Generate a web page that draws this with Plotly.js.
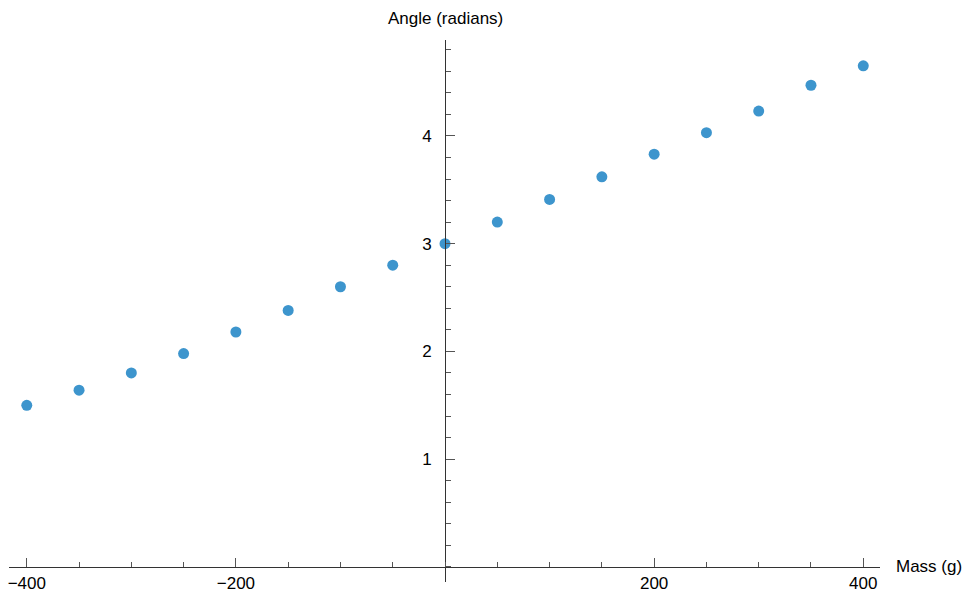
<!DOCTYPE html>
<html>
<head>
<meta charset="utf-8">
<script src="https://cdn.plot.ly/plotly-3.0.1.min.js"></script>
<style>html,body{margin:0;padding:0;background:#fff;}#chart{width:963px;height:593px;}</style>
</head>
<body>
<div id="chart"></div>
<script>
const massValues = [-400, -350, -300, -250, -200, -150, -100, -50, 0, 50, 100, 150, 200, 250, 300, 350, 400];
const angleValues = [1.50, 1.64, 1.80, 1.98, 2.18, 2.38, 2.60, 2.80, 3.00, 3.20, 3.41, 3.62, 3.83, 4.03, 4.23, 4.47, 4.65];
const xTickVals = [-400, -200, 200, 400];
const xTickText = ['\u2212400', '\u2212200', '200', '400'];
const yTickVals = [1, 2, 3, 4];
const yTickText = ['1', '2', '3', '4'];
const xTitle = 'Mass (g)';
const yTitle = 'Angle (radians)';

const xRange = [-417, 416];
const yRange = [-0.14, 4.89];
const xPos = (0 - yRange[0]) / (yRange[1] - yRange[0]);
const yPos = (0 - xRange[0]) / (xRange[1] - xRange[0]);

const font = {family: 'Liberation Sans, Arial, sans-serif', size: 17, color: '#000'};

const trace = {
  x: massValues, y: angleValues, type: 'scatter', mode: 'markers',
  marker: {size: 11, color: '#3d95cd'}, cliponaxis: false, hoverinfo: 'none'
};

const layout = {
  width: 963, height: 593,
  margin: {l: 9, r: 83, t: 40, b: 11},
  paper_bgcolor: '#fff', plot_bgcolor: '#fff',
  showlegend: false,
  font: font,
  xaxis: {
    range: xRange, anchor: 'free', position: xPos, side: 'bottom',
    showgrid: false, zeroline: false, showline: true, linecolor: '#333', linewidth: 1,
    ticks: 'inside', ticklen: 9, tickcolor: '#555', tickwidth: 1,
    tickmode: 'array', tickvals: xTickVals, ticktext: xTickText,
    tickfont: font, ticklabelstandoff: 1,
    minor: {dtick: 50, tick0: 0, ticks: 'inside', ticklen: 5, tickcolor: '#555', showgrid: false}
  },
  yaxis: {
    range: yRange, anchor: 'free', position: yPos, side: 'left',
    showgrid: false, zeroline: false, showline: true, linecolor: '#333', linewidth: 1,
    ticks: 'inside', ticklen: 9, tickcolor: '#555', tickwidth: 1,
    tickmode: 'array', tickvals: yTickVals, ticktext: yTickText,
    tickfont: font, ticklabelstandoff: 10,
    minor: {dtick: 0.2, tick0: 0, ticks: 'inside', ticklen: 5, tickcolor: '#555', showgrid: false}
  },
  annotations: [
    {text: yTitle, xref: 'x', yref: 'paper', x: 0, y: 1, xanchor: 'center', yanchor: 'bottom', yshift: 10, showarrow: false, font: font},
    {text: xTitle, xref: 'paper', yref: 'y', x: 1, y: 0, xanchor: 'left', yanchor: 'middle', xshift: 14, showarrow: false, font: font}
  ]
};

Plotly.newPlot('chart', [trace], layout, {staticPlot: true, displayModeBar: false});
</script>
</body>
</html>
